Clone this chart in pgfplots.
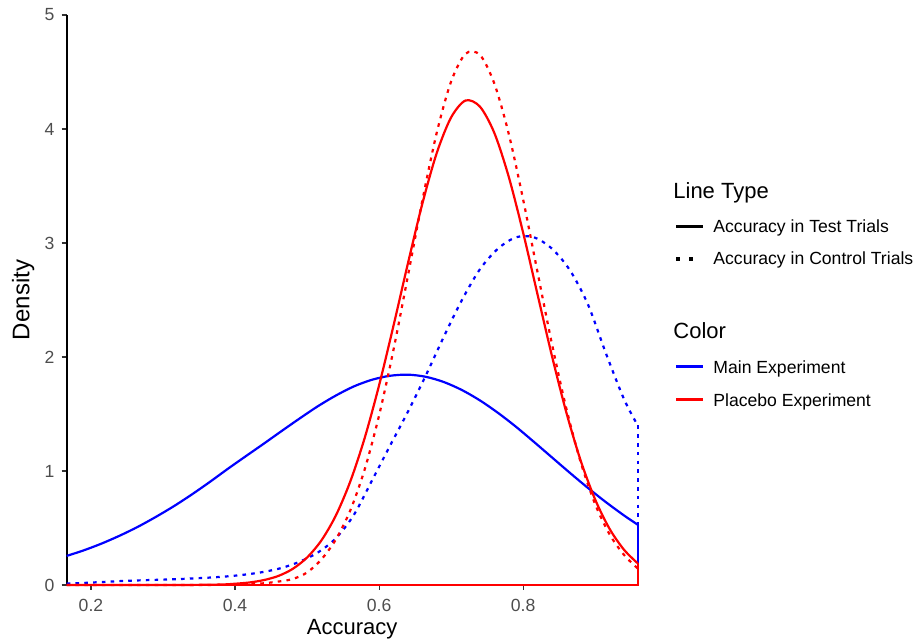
\documentclass[border=0pt]{standalone}
\usepackage{fontspec}
\setmainfont{Liberation Sans}
\usepackage{pgfplots}
\pgfplotsset{compat=1.18}
\definecolor{tickgray}{HTML}{4D4D4D}
\definecolor{tickcol}{HTML}{333333}
\begin{document}
\begin{tikzpicture}
\begin{axis}[
  width=285.5pt, height=285pt, scale only axis,
  xmin=0.1663, xmax=0.959, ymin=0, ymax=5,
  axis lines*=left,
  axis line style={line width=0.9pt, black, -},
  xtick={0.2,0.4,0.6,0.8}, ytick={0,1,2,3,4,5},
  xticklabels={0.2,0.4,0.6,0.8},
  tick align=outside, major tick length=2.5pt,
  tick style={tickcol, line width=0.55pt},
  /pgf/number format/assume math mode=true,
  ticklabel style={font=\fontsize{8.8}{10}\selectfont, text=tickgray},
  xticklabel style={anchor=north, inner sep=0pt, yshift=-4.5pt},
  yticklabel style={anchor=east, inner sep=0pt, xshift=-3.4pt},
  xlabel={Accuracy}, ylabel={Density},
  xlabel style={font=\fontsize{11}{13}\selectfont, at={(rel axis cs:0.5,-0.0877)}, anchor=base, inner sep=0pt},
  ylabel style={font=\fontsize{12}{14}\selectfont, at={(rel axis cs:-0.0655,0.5)}, anchor=base, rotate=0, inner sep=0pt},
  clip=false,
]
% Main experiment, test trials
\addplot[blue, line width=1.1pt, smooth] coordinates {
(0.1663,0.255)(0.19,0.304)(0.215,0.364)(0.24,0.433)(0.265,0.510)(0.29,0.597)(0.315,0.691)
(0.34,0.794)(0.365,0.904)(0.39,1.019)(0.415,1.130)(0.44,1.240)(0.465,1.352)(0.49,1.462)
(0.515,1.568)(0.54,1.662)(0.565,1.742)(0.59,1.800)(0.615,1.835)(0.64,1.845)(0.665,1.826)
(0.69,1.780)(0.715,1.710)(0.74,1.619)(0.765,1.510)(0.79,1.388)(0.815,1.255)(0.84,1.119)
(0.865,0.983)(0.89,0.851)(0.915,0.726)(0.94,0.610)(0.959,0.529)};
\addplot[blue, line width=1.1pt] coordinates {(0.959,0.529)(0.959,0)};
% Main experiment, control trials
\addplot[blue, line width=1.1pt, smooth, dash pattern=on 1.8pt off 2.6pt] coordinates {
(0.1663,0.012)(0.19,0.018)(0.215,0.026)(0.24,0.034)(0.265,0.040)(0.29,0.045)(0.315,0.050)
(0.34,0.057)(0.365,0.065)(0.39,0.076)(0.415,0.092)(0.44,0.115)(0.465,0.150)(0.49,0.205)
(0.515,0.285)(0.54,0.410)(0.565,0.615)(0.59,0.915)(0.615,1.220)(0.64,1.520)(0.665,1.840)
(0.69,2.180)(0.715,2.500)(0.74,2.770)(0.765,2.950)(0.79,3.050)(0.815,3.050)(0.84,2.950)
(0.865,2.760)(0.89,2.460)(0.915,2.030)(0.94,1.630)(0.959,1.400)};
\addplot[blue, line width=1.1pt, dash pattern=on 1.8pt off 2.6pt] coordinates {(0.959,1.40)(0.959,0.529)};
% Placebo experiment, control trials
\addplot[red, line width=1.1pt, smooth, dash pattern=on 1.8pt off 2.6pt] coordinates {
(0.1663,0)(0.34,0.0)(0.40,0.003)(0.42,0.007)(0.44,0.015)(0.46,0.030)(0.48,0.052)(0.50,0.110)
(0.52,0.225)(0.54,0.400)(0.56,0.654)(0.58,1.014)(0.60,1.488)(0.62,2.064)(0.64,2.712)
(0.66,3.371)(0.68,3.967)(0.70,4.417)(0.72,4.660)(0.74,4.650)(0.76,4.398)
(0.78,3.957)(0.80,3.380)(0.82,2.742)(0.84,2.113)(0.86,1.546)(0.88,1.074)(0.90,0.708)
(0.92,0.444)(0.94,0.264)(0.959,0.145)};
% Placebo experiment, test trials
\addplot[red, line width=1.1pt, smooth] coordinates {
(0.1663,0)(0.32,0.0)(0.38,0.004)(0.40,0.011)(0.42,0.022)(0.44,0.043)(0.46,0.079)(0.48,0.141)
(0.50,0.241)(0.52,0.392)(0.54,0.610)(0.56,0.908)(0.58,1.290)(0.60,1.752)(0.62,2.275)
(0.64,2.821)(0.66,3.344)(0.68,3.789)(0.70,4.102)(0.72,4.250)(0.74,4.196)
(0.76,3.965)(0.78,3.580)(0.80,3.089)(0.82,2.547)(0.84,2.008)(0.86,1.512)(0.88,1.088)
(0.90,0.749)(0.92,0.492)(0.94,0.309)(0.959,0.190)};
\addplot[red, line width=1.1pt] coordinates {(0.959,0.190)(0.959,0)(0.1663,0)};
% legend
\node[anchor=base west, inner sep=0pt, font=\fontsize{11}{13}\selectfont] at (rel axis cs:1.0618,0.6784) {Line Type};
\draw[black, line width=1.5pt] (rel axis cs:1.0671,0.6298) -- (rel axis cs:1.1144,0.6298);
\node[anchor=base west, inner sep=0pt, font=\fontsize{8.8}{10}\selectfont] at (rel axis cs:1.1319,0.6181) {Accuracy in Test Trials};
\draw[black, line width=2pt, dash pattern=on 2pt off 4.5pt] (rel axis cs:1.0671,0.5714) -- (rel axis cs:1.0990,0.5714);
\node[anchor=base west, inner sep=0pt, font=\fontsize{8.8}{10}\selectfont] at (rel axis cs:1.1319,0.5614) {Accuracy in Control Trials};
\node[anchor=base west, inner sep=0pt, font=\fontsize{11}{13}\selectfont] at (rel axis cs:1.0618,0.4328) {Color};
\draw[blue, line width=1.5pt] (rel axis cs:1.0671,0.3830) -- (rel axis cs:1.1144,0.3830);
\node[anchor=base west, inner sep=0pt, font=\fontsize{8.8}{10}\selectfont] at (rel axis cs:1.1319,0.3714) {Main Experiment};
\draw[red, line width=1.5pt] (rel axis cs:1.0671,0.3246) -- (rel axis cs:1.1144,0.3246);
\node[anchor=base west, inner sep=0pt, font=\fontsize{8.8}{10}\selectfont] at (rel axis cs:1.1319,0.3128) {Placebo Experiment};
\coordinate (bbA) at (rel axis cs:-0.11681,-0.09825);
\coordinate (bbB) at (rel axis cs:1.49089,1.02632);
\end{axis}
\pgfresetboundingbox
\useasboundingbox (bbA) rectangle (bbB);
\end{tikzpicture}
\end{document}
